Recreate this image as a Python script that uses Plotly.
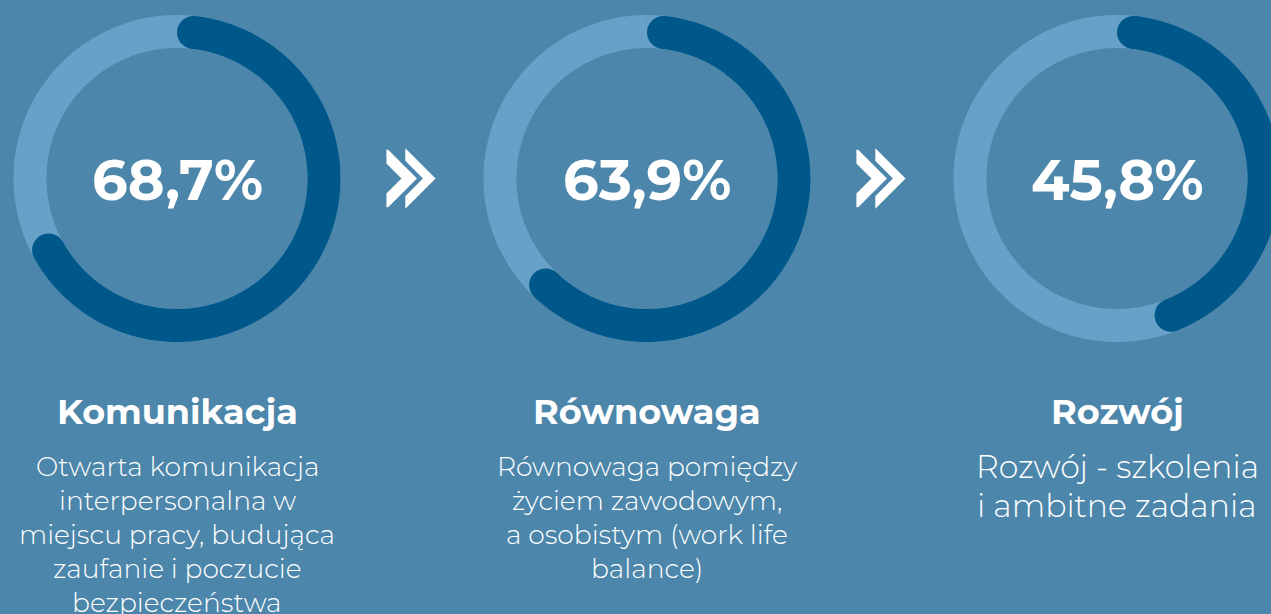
import numpy as np
import plotly.graph_objects as go

# ---- data ----
categories = ["Komunikacja", "Równowaga", "Rozwój"]
values = [68.7, 63.9, 45.8]
value_labels = ["68,7%", "63,9%", "45,8%"]
descriptions = [
    ["Otwarta komunikacja", "interpersonalna w", "miejscu pracy, budująca", "zaufanie i poczucie", "bezpieczeństwa"],
    ["Równowaga pomiędzy", "życiem zawodowym,", "a osobistym (work life", "balance)"],
    ["Rozwój - szkolenia", "i ambitne zadania"],
]

# ---- style ----
W, H = 1271, 614
BG = "#4c86ab"
LIGHT = "#68a1c7"
DARK = "#00588a"
FONT = "Montserrat, 'Open Sans', sans-serif"
centers_x = [177, 647, 1117]
cy = 178.5
R = 147          # ring centerline radius (px)
RW = 33          # ring width (px)

fig = go.Figure()

cap = np.degrees(np.arcsin((RW / 2) / R))
for i, (cx, v) in enumerate(zip(centers_x, values)):
    # full background ring
    t = np.radians(np.linspace(0, 360, 721))
    fig.add_trace(go.Scatter(x=cx + R * np.sin(t), y=cy - R * np.cos(t), mode="lines",
                             line=dict(color=LIGHT, width=RW, simplify=False),
                             hoverinfo="skip", showlegend=False))
    # value arc (clockwise from top), rounded caps
    a0, a1 = cap, v / 100 * 360 - cap
    t = np.radians(np.linspace(a0, a1, 600))
    fig.add_trace(go.Scatter(x=cx + R * np.sin(t), y=cy - R * np.cos(t), mode="lines",
                             line=dict(color=DARK, width=RW, simplify=False),
                             hoverinfo="skip", showlegend=False))
    fig.add_trace(go.Scatter(x=[cx + R * np.sin(t[0]), cx + R * np.sin(t[-1])],
                             y=[cy - R * np.cos(t[0]), cy - R * np.cos(t[-1])], mode="markers",
                             marker=dict(color=DARK, size=RW, line=dict(width=0)),
                             hoverinfo="skip", showlegend=False))
    # percentage
    fig.add_annotation(x=cx, y=cy + 1, text=value_labels[i], showarrow=False, xanchor="center",
                       yanchor="middle", font=dict(family=FONT, size=56, color="white", weight="bold"))
    # title
    fig.add_annotation(x=cx, y=411, text=categories[i], showarrow=False, xanchor="center",
                       yanchor="middle", font=dict(family=FONT, size=35, color="white", weight="bold"))
    # description lines
    if i < 2:
        y0, dy, fs = 466, 34.2, 26.5
    else:
        y0, dy, fs = 467, 39, 31.5
    for j, line in enumerate(descriptions[i]):
        fig.add_annotation(x=cx, y=y0 + j * dy, text=line, showarrow=False, xanchor="center",
                           yanchor="middle", font=dict(family=FONT, size=fs, color="white", weight=300))

# chevrons between rings
def chevron(L, C, Hh, s, k):
    pts = [(L, C - Hh), (L + s, C - Hh), (L + s + Hh, C), (L + s, C + Hh), (L, C + Hh),
           (L, C + Hh - k), (L + Hh - k, C), (L, C - Hh + k)]
    return "M " + " L ".join(f"{x:.1f},{y:.1f}" for x, y in pts) + " Z"

for gap_x in [386.7, 856.7]:
    fig.add_shape(type="path", path=chevron(gap_x, 178.5, 28.5, 1.5, 13.5), xref="x", yref="y",
                  fillcolor="white", line=dict(color="white", width=0.5), layer="above")
    fig.add_shape(type="path", path=chevron(gap_x + 17.6, 178.5, 31.7, 1.0, 14.5), xref="x", yref="y",
                  fillcolor="white", line=dict(color=BG, width=2), layer="above")

fig.update_layout(
    width=W, height=H, autosize=False,
    margin=dict(l=0, r=0, t=0, b=0),
    paper_bgcolor=BG, plot_bgcolor=BG,
    xaxis=dict(range=[0, W], visible=False, fixedrange=True),
    yaxis=dict(range=[H, 0], visible=False, fixedrange=True),
    showlegend=False,
)

fig.write_html("out.html", config={"displayModeBar": False},
               post_script="document.body.style.margin='0px';")
